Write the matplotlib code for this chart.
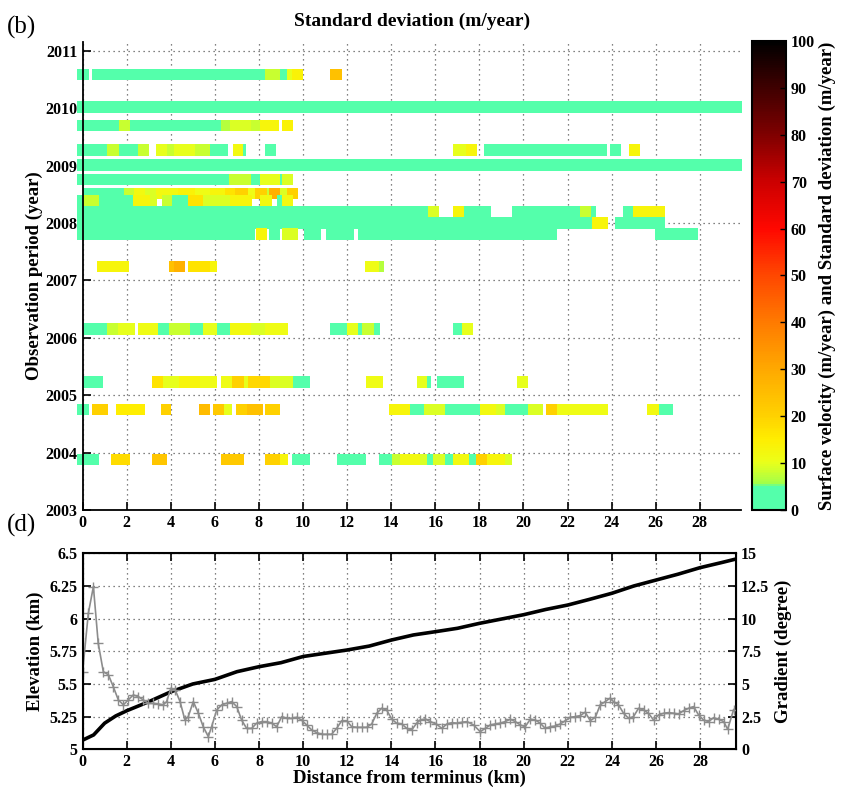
import numpy as np
import matplotlib
matplotlib.use("Agg")
from matplotlib import pyplot as plt
from matplotlib.colors import LinearSegmentedColormap, Normalize
from matplotlib.cm import ScalarMappable

plt.rcParams['font.family'] = ['Liberation Serif', 'DejaVu Serif']
plt.rcParams['font.weight'] = 'bold'
plt.rcParams['axes.labelweight'] = 'bold'
plt.rcParams['axes.titleweight'] = 'bold'

# ---- panel (b): observation rows, each segment is (start km, end km, value m/year)
row_years = [2010.59, 2010.02, 2009.70, 2009.27, 2009.01, 2008.76, 2008.51, 2008.39,
             2008.20, 2008.00, 2007.81, 2007.24, 2006.15, 2005.23, 2004.75, 2003.88]

r1 = [(-0.24, 0.29, 2), (0.41, 8.27, 2), (8.27, 8.95, 8), (8.95, 9.27, 3), (9.27, 9.5, 10),
      (9.5, 9.99, 14), (11.22, 11.75, 24)]
r2 = [(-0.24, 29.9, 2)]
r3 = [(-0.24, 1.65, 2), (1.65, 2.15, 8), (2.15, 6.28, 3), (6.28, 6.68, 7), (6.68, 7.64, 9),
      (7.64, 8.05, 8), (8.05, 8.9, 13), (9.03, 9.56, 14)]
r4 = [(-0.24, 1.12, 2), (1.12, 1.66, 8), (1.66, 2.53, 2), (2.53, 3.01, 8), (3.33, 3.81, 10),
      (3.81, 4.15, 8), (4.15, 5.1, 10), (5.1, 5.78, 8), (5.78, 6.58, 2), (6.81, 7.29, 12),
      (7.29, 7.41, 2), (8.27, 8.77, 2), (16.8, 17.37, 10), (17.37, 17.87, 13), (18.2, 23.81, 2),
      (23.92, 24.42, 2), (24.78, 25.28, 13)]
r5 = [(-0.24, 29.9, 2)]
r6 = [(-0.24, 6.65, 2), (6.65, 7.62, 8), (7.62, 8.05, 2), (8.05, 8.95, 10), (8.95, 9.06, 2),
      (9.06, 9.56, 9)]
r7 = [(0.03, 1.88, 2), (1.88, 2.32, 8), (2.32, 2.83, 12), (2.83, 3.33, 9), (3.33, 4.34, 12),
      (4.34, 5.1, 14), (5.1, 5.8, 11), (5.8, 6.46, 13), (6.46, 6.91, 17), (6.91, 7.51, 20),
      (7.51, 7.82, 11), (7.82, 8.35, 20), (8.35, 8.45, 8), (8.45, 8.95, 28), (8.95, 9.27, 9),
      (9.27, 9.75, 20)]
r8 = [(-0.24, 0.03, 2), (0.03, 0.74, 8), (0.74, 2.3, 2), (2.3, 3.06, 13), (3.06, 3.36, 9),
      (3.59, 4.04, 8), (4.04, 4.8, 2), (4.8, 5.47, 17), (5.47, 6.68, 9), (6.68, 7.67, 13),
      (8.05, 8.58, 12), (8.8, 9.03, 2), (9.06, 9.56, 12)]
r9 = [(-0.24, 15.65, 2), (15.65, 16.16, 9), (16.8, 17.31, 13), (17.31, 18.52, 2),
      (19.47, 22.55, 2), (22.55, 23.06, 8), (23.06, 23.31, 2), (24.52, 24.97, 2),
      (24.97, 26.44, 13)]
r10 = [(-0.24, 23.12, 2), (23.12, 23.84, 13), (24.16, 26.44, 2)]
r11 = [(-0.24, 7.82, 2), (7.86, 8.35, 13), (8.47, 8.95, 2), (9.06, 9.75, 9), (10.06, 10.81, 2),
       (11.04, 12.32, 2), (12.5, 21.5, 2), (25.95, 27.9, 2)]
r12 = [(0.65, 2.12, 13), (3.93, 4.15, 24), (4.15, 4.64, 28), (4.8, 5.78, 17), (5.78, 6.08, 13),
       (12.81, 13.44, 11), (13.44, 13.67, 7)]
r13 = [(0, 1.09, 2), (1.09, 1.62, 8), (1.62, 2.38, 10), (2.53, 3.4, 11), (3.4, 3.93, 2),
       (3.93, 4.87, 8), (4.87, 5.45, 2), (5.45, 6.08, 10), (6.08, 6.68, 2), (6.68, 7.64, 12),
       (7.64, 8.27, 9), (8.27, 9.3, 11), (11.22, 12.0, 2), (12.0, 12.5, 10), (12.5, 12.69, 2),
       (12.69, 13.22, 8), (13.22, 13.49, 2), (16.81, 17.21, 2), (17.21, 17.71, 10)]
r14 = [(0, 0.94, 2), (3.13, 3.66, 17), (3.66, 4.37, 10), (4.37, 5.32, 13), (5.32, 6.08, 11),
       (6.28, 6.79, 11), (6.79, 7.33, 20), (7.33, 7.51, 10), (7.51, 8.5, 19), (8.5, 9.56, 9),
       (9.56, 10.31, 2), (12.84, 13.64, 11), (15.15, 15.63, 10), (15.63, 15.8, 2),
       (16.06, 17.31, 2), (19.69, 20.21, 10)]
r15 = [(-0.24, 0.3, 2), (0.44, 1.14, 20), (1.51, 2.83, 15), (3.56, 4.0, 20), (5.28, 5.78, 25),
       (5.93, 6.41, 22), (6.41, 6.76, 10), (6.96, 7.44, 20), (7.44, 8.2, 24), (8.27, 8.95, 20),
       (13.91, 14.85, 13), (14.85, 15.48, 2), (15.48, 16.44, 9), (16.44, 18.03, 2),
       (18.03, 18.75, 12), (18.75, 19.16, 9), (19.16, 20.19, 2), (20.19, 20.9, 9),
       (21.02, 21.5, 20), (21.5, 23.84, 11), (25.61, 26.15, 12), (26.15, 26.76, 2)]
r16 = [(-0.24, 0.74, 2), (1.3, 2.15, 18), (3.13, 3.81, 23), (6.28, 7.32, 22), (8.27, 8.95, 20),
       (8.95, 9.3, 13), (9.51, 10.31, 2), (11.55, 12.84, 2), (13.46, 14.02, 2), (14.02, 14.4, 8),
       (14.4, 15.3, 12), (15.3, 15.63, 9), (15.63, 15.9, 2), (15.9, 16.44, 9), (16.44, 16.81, 2),
       (16.81, 17.52, 12), (17.52, 17.83, 2), (17.83, 18.33, 20), (18.33, 19.16, 13),
       (19.16, 19.46, 9)]
rows = [r1, r2, r3, r4, r5, r6, r7, r8, r9, r10, r11, r12, r13, r14, r15, r16]

# ---- panel (d): elevation profile and gradient
elev_km = [0, 0.5, 1, 1.5, 2, 3, 4, 5, 6, 7, 8, 9, 10, 11, 12, 13, 14, 15, 16, 17, 18, 19,
           20, 21, 22, 23, 24, 25, 26, 27, 28, 29, 29.6]
elev = [5.07, 5.11, 5.2, 5.255, 5.295, 5.364, 5.44, 5.5, 5.535, 5.594, 5.632, 5.663, 5.71,
        5.735, 5.76, 5.79, 5.836, 5.875, 5.9, 5.926, 5.964, 5.997, 6.03, 6.07, 6.104, 6.148,
        6.194, 6.25, 6.295, 6.34, 6.39, 6.43, 6.455]

grad_km = [0.0, 0.26, 0.49, 0.71, 0.94, 1.17, 1.39, 1.62, 1.85, 2.07, 2.3, 2.53, 2.75, 2.98,
           3.21, 3.43, 3.66, 3.81, 4.0, 4.2, 4.42, 4.64, 4.79, 5.02, 5.25, 5.47, 5.7, 5.85,
           6.08, 6.31, 6.53, 6.76, 6.99, 7.21, 7.44, 7.67, 7.89, 8.12, 8.35, 8.57, 8.8, 9.03,
           9.25, 9.48, 9.71, 9.93, 10.16, 10.39, 10.61, 10.84, 11.07, 11.29, 11.52, 11.75,
           11.98, 12.2, 12.43, 12.66, 12.88, 13.11, 13.34, 13.56, 13.79, 14.02, 14.24, 14.47,
           14.7, 14.92, 15.15, 15.31, 15.54, 15.76, 16.04, 16.29, 16.52, 16.75, 16.97, 17.2,
           17.43, 17.73, 18.03, 18.26, 18.48, 18.71, 18.94, 19.16, 19.39, 19.62, 19.85, 20.07,
           20.3, 20.53, 20.75, 20.98, 21.21, 21.43, 21.66, 21.89, 22.11, 22.34, 22.57, 22.79,
           23.02, 23.25, 23.47, 23.7, 23.9, 24.08, 24.3, 24.53, 24.76, 24.98, 25.21, 25.44,
           25.66, 25.89, 26.12, 26.35, 26.57, 26.8, 27.03, 27.25, 27.48, 27.71, 27.93, 28.16,
           28.39, 28.61, 28.84, 29.07, 29.25, 29.52]
grad = [5.94, 10.4, 12.45, 8.1, 5.94, 5.7, 4.8, 3.78, 3.4, 3.78, 4.16, 4.03, 3.78, 3.52,
        3.52, 3.47, 3.4, 3.65, 4.67, 4.54, 3.65, 2.24, 2.5, 3.65, 2.76, 1.73, 0.97, 1.73,
        3.0, 3.4, 3.52, 3.65, 3.27, 2.24, 1.6, 1.6, 2.0, 2.12, 2.12, 2.0, 1.73, 2.5,
        2.37, 2.37, 2.45, 2.24, 1.86, 1.48, 1.28, 1.15, 1.15, 1.15, 1.6, 2.19,
        2.19, 1.73, 1.68, 1.68, 1.68, 1.94, 2.76, 3.14, 3.0, 2.3, 2.0, 1.94,
        1.6, 1.48, 2.0, 2.24, 2.32, 2.12, 1.94, 1.6, 1.94, 2.04, 2.0, 2.07,
        2.12, 1.86, 1.35, 1.6, 1.86, 1.94, 2.0, 2.12, 2.3, 2.12, 1.86, 1.73,
        2.3, 2.24, 2.0, 1.6, 1.73, 1.78, 1.94, 2.19, 2.45, 2.5, 2.58, 2.84,
        2.19, 2.45, 3.4, 3.65, 3.9, 3.65, 3.4, 2.76, 2.37, 2.5, 3.14, 3.0,
        2.76, 2.24, 2.63, 2.76, 2.81, 2.76, 2.7, 2.96, 3.14, 3.27, 2.63, 2.24,
        2.12, 2.42, 2.3, 2.12, 1.53, 3.04]

cmap = LinearSegmentedColormap.from_list('sv', [
    (0.0, (0.33, 1.0, 0.67)), (0.05, (0.33, 1.0, 0.67)), (0.052, (0.62, 1.0, 0.3)),
    (0.10, (0.92, 1.0, 0.1)), (0.15, (1.0, 0.93, 0.0)), (0.20, (1.0, 0.82, 0.0)),
    (0.30, (1.0, 0.66, 0.0)), (0.40, (1.0, 0.48, 0.0)), (0.50, (1.0, 0.28, 0.0)),
    (0.60, (1.0, 0.03, 0.0)), (0.70, (0.8, 0.0, 0.0)), (0.80, (0.5, 0.0, 0.0)),
    (0.90, (0.25, 0.0, 0.0)), (1.0, (0.0, 0.0, 0.0))])
norm = Normalize(0, 100)

TICK = 11.5
LAB = 13.5
grid_kw = dict(linestyle=(0, (1, 3)), color='0.35', linewidth=0.9)

fig = plt.figure(figsize=(8.41, 7.93), dpi=100)

# top panel
ax = fig.add_axes([0.0982, 0.3569, 0.783, 0.590])
for y, segs in zip(row_years, rows):
    for x0, x1, v in segs:
        ax.barh(y, x1 - x0, left=x0, height=0.2, color=cmap(norm(v)),
                linewidth=0, clip_on=False)
ax.set_xlim(0, 29.87)
ax.set_ylim(2003, 2011.15)
ax.set_xticks(range(0, 29, 2))
ax.set_yticks(range(2003, 2012))
ax.set_axisbelow(True)
ax.grid(True, **grid_kw)
ax.spines['top'].set_visible(False)
ax.spines['right'].set_visible(False)
ax.spines['left'].set_linewidth(1.3)
ax.spines['bottom'].set_linewidth(1.3)
ax.tick_params(direction='in', length=6, width=1.2, labelsize=TICK)
ax.set_title('Standard deviation (m/year)', fontsize=14, pad=12)
ax.set_ylabel('Observation period (year)', fontsize=LAB, labelpad=2)

cax = fig.add_axes([0.894, 0.3569, 0.0404, 0.5914])
cb = fig.colorbar(ScalarMappable(norm=norm, cmap=cmap), cax=cax)
cb.set_ticks(range(0, 101, 10))
cb.outline.set_linewidth(1.5)
cb.ax.tick_params(direction='in', length=4, width=1, labelsize=TICK)
cb.set_label('Surface velocity (m/year) and Standard deviation (m/year)', fontsize=13.5,
             labelpad=3)

# bottom panel
ax2 = fig.add_axes([0.0982, 0.0551, 0.777, 0.2472])
ax2.plot(elev_km, elev, color='k', linewidth=2.6)
ax2.set_xlim(0, 29.63)
ax2.set_ylim(5, 6.5)
ax2.set_xticks(range(0, 29, 2))
ax2.set_yticks([5, 5.25, 5.5, 5.75, 6, 6.25, 6.5])
ax2.set_yticklabels(['5', '5.25', '5.5', '5.75', '6', '6.25', '6.5'])
ax2.grid(True, **grid_kw)
ax2.tick_params(direction='in', length=6, width=1.2, labelsize=TICK, top=True)
for s in ax2.spines.values():
    s.set_linewidth(1.5)
ax2.set_xlabel('Distance from terminus (km)', fontsize=LAB, labelpad=0)
ax2.set_ylabel('Elevation (km)', fontsize=LAB)

ax3 = ax2.twinx()
ax3.plot(grad_km, grad, color='0.55', marker='+', markersize=7, linewidth=1.2)
ax3.set_ylim(0, 15)
ax3.set_yticks([0, 2.5, 5, 7.5, 10, 12.5, 15])
ax3.set_yticklabels(['0', '2.5', '5', '7.5', '10', '12.5', '15'])
ax3.tick_params(direction='in', length=6, width=1.2, labelsize=TICK)
ax3.set_ylabel('Gradient (degree)', fontsize=LAB)

fig.text(0.008, 0.965, '(b)', fontsize=18, fontweight='normal', va='center')
fig.text(0.008, 0.338, '(d)', fontsize=18, fontweight='normal', va='center')

fig.savefig('out.png', dpi=100)
